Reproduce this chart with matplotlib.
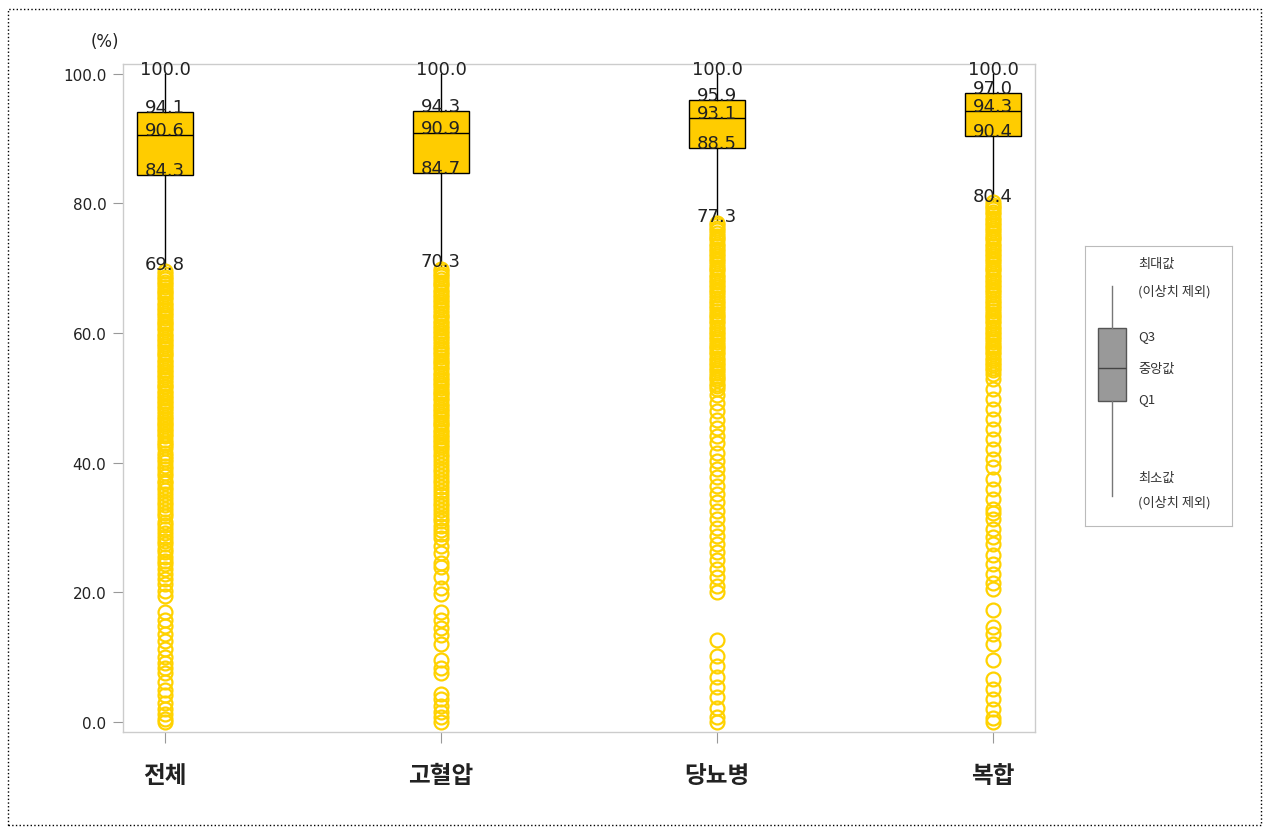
import numpy as np
import matplotlib.pyplot as plt
from matplotlib.patches import Rectangle

plt.rcParams['font.family'] = ['DejaVu Sans', 'Noto Sans CJK KR']

# Categories and box statistics (%)
categories = ['전체', '고혈압', '당뇨병', '복합']
whisker_high = [100.0, 100.0, 100.0, 100.0]
q3_values = [94.1, 94.3, 95.9, 97.0]
median_values = [90.6, 90.9, 93.1, 94.3]
q1_values = [84.3, 84.7, 88.5, 90.4]
whisker_low = [69.8, 70.3, 77.3, 80.4]

# Outliers (dense parts are solid columns of circles)
outliers_total = [
    0.0, 0.4, 1.2, 2.0, 3.0, 4.1, 5.0, 6.2, 7.5, 8.3, 9.1, 10.0, 11.2, 12.5,
    13.6, 14.8, 15.7, 16.9, 19.5, 20.2, 21.3, 22.0, 22.8, 23.6, 24.3, 24.8,
    25.5, 26.2, 26.7, 27.4, 27.9, 28.6, 29.2, 29.8, 30.4, 30.9, 31.7, 32.3,
    32.8, 33.5, 34.0, 34.6, 35.1, 35.8, 36.3, 36.9, 37.2, 37.9, 38.4, 39.0,
    39.5, 40.1, 40.6, 41.1, 41.5, 42.2, 42.7, 43.1, 43.5,
    44.1, 44.4, 44.9, 45.2, 45.7, 46.0, 46.3, 46.8, 47.1, 47.5, 47.9, 48.4,
    48.7, 49.2, 49.5, 49.9, 50.3, 50.8, 51.1, 51.6, 51.9, 52.3, 52.7, 53.2,
    53.5, 54.0, 54.3, 54.7, 55.1, 55.6, 55.9, 56.4, 56.7, 57.1, 57.5, 58.0,
    58.3, 58.8, 59.1, 59.5, 59.9, 60.4, 60.7, 61.2, 61.5, 61.9, 62.3, 62.8,
    63.1, 63.6, 63.9, 64.3, 64.7, 65.2, 65.5, 66.0, 66.3, 66.7, 67.1, 67.6,
    67.9, 68.4, 68.7, 69.1, 69.5,
]
outliers_hyper = [
    0.0, 0.8, 1.6, 2.5, 3.6, 4.3, 7.5, 8.4, 9.6, 12.1, 13.4, 14.5, 15.8,
    16.9, 19.8, 20.6, 22.3, 23.9, 24.6, 26.1, 27.2, 28.4, 29.0, 29.6, 30.3,
    31.0, 31.5, 32.1, 32.7, 33.3, 33.8, 34.4, 35.0, 35.6, 36.2, 36.8, 37.4,
    37.9, 38.5, 39.1, 39.7, 40.2, 40.8, 41.3, 41.9,
    42.4, 42.7, 43.2, 43.5, 43.9, 44.3, 44.8, 45.1, 45.6, 45.9, 46.3, 46.7,
    47.2, 47.5, 48.0, 48.3, 48.7, 49.1, 49.6, 49.9, 50.4, 50.7, 51.1, 51.5,
    52.0, 52.3, 52.8, 53.1, 53.5, 53.9, 54.4, 54.7, 55.2, 55.5, 55.9, 56.3,
    56.8, 57.1, 57.6, 57.9, 58.3, 58.7, 59.2, 59.5, 60.0, 60.3, 60.7, 61.1,
    61.6, 61.9, 62.4, 62.7, 63.1, 63.5, 64.0, 64.3, 64.8, 65.1, 65.5, 65.9,
    66.4, 66.7, 67.2, 67.5, 67.9, 68.3, 68.8, 69.1, 69.6, 69.9,
]
outliers_diabetes = [
    0.0, 0.8, 2.2, 3.9, 5.4, 7.0, 8.7, 10.2, 12.6, 20.1, 21.0, 22.3, 23.6,
    25.0, 26.2, 27.4, 28.7, 30.0, 31.3, 32.6, 33.9, 35.1, 36.4, 37.8, 39.0,
    40.2, 41.5, 43.0, 44.1, 45.3, 46.6, 48.0, 49.2, 50.5, 51.3,
    51.9, 52.2, 52.7, 53.0, 53.4, 53.8, 54.3, 54.6, 55.1, 55.4, 55.8, 56.2,
    56.7, 57.0, 57.5, 57.8, 58.2, 58.6, 59.1, 59.4, 59.9, 60.2, 60.6, 61.0,
    61.5, 61.8, 62.3, 62.6, 63.0, 63.4, 63.9, 64.2, 64.7, 65.0, 65.4, 65.8,
    66.3, 66.6, 67.1, 67.4, 67.8, 68.2, 68.7, 69.0, 69.5, 69.8, 70.2, 70.6,
    71.1, 71.4, 71.9, 72.2, 72.6, 73.0, 73.5, 73.8, 74.3, 74.6, 75.0, 75.4,
    75.9, 76.2, 76.7, 77.0,
]
outliers_complex = [
    0.0, 0.6, 2.0, 3.5, 5.1, 6.6, 9.5, 12.0, 13.6, 14.6, 17.2, 20.5, 21.4,
    22.8, 24.4, 25.7, 27.5, 28.5, 29.8, 31.3, 32.2, 32.9, 34.4, 36.0, 37.5,
    39.3, 40.6, 42.1, 43.7, 45.2, 46.8, 48.3, 49.8, 51.4, 52.9, 53.7,
    54.3, 54.6, 55.1, 55.4, 55.8, 56.2, 56.7, 57.0, 57.5, 57.8, 58.2, 58.6,
    59.1, 59.4, 59.9, 60.2, 60.6, 61.0, 61.5, 61.8, 62.3, 62.6, 63.0, 63.4,
    63.9, 64.2, 64.7, 65.0, 65.4, 65.8, 66.3, 66.6, 67.1, 67.4, 67.8, 68.2,
    68.7, 69.0, 69.5, 69.8, 70.2, 70.6, 71.1, 71.4, 71.9, 72.2, 72.6, 73.0,
    73.5, 73.8, 74.3, 74.6, 75.0, 75.4, 75.9, 76.2, 76.7, 77.0, 77.4, 77.8,
    78.3, 78.6, 79.1, 79.4, 79.8, 80.2,
]
outlier_lists = [outliers_total, outliers_hyper, outliers_diabetes, outliers_complex]

y_ticks = [0, 20, 40, 60, 80, 100]

BOX_COLOR = '#FFCC00'
FLIER_COLOR = '#FFD200'

fig = plt.figure(figsize=(12.64, 8.28), dpi=100)
ax = fig.add_axes([0.0973, 0.1147, 0.7215, 0.8068])

stats = []
for i in range(len(categories)):
    stats.append({
        'whislo': whisker_low[i], 'q1': q1_values[i], 'med': median_values[i],
        'q3': q3_values[i], 'whishi': whisker_high[i],
        'fliers': np.array(outlier_lists[i]), 'label': categories[i],
    })

ax.bxp(
    stats,
    positions=range(len(categories)),
    widths=0.2,
    patch_artist=True,
    showcaps=False,
    boxprops=dict(facecolor=BOX_COLOR, edgecolor='black', linewidth=1.0),
    medianprops=dict(color='black', linewidth=1.0),
    whiskerprops=dict(color='black', linewidth=1.0),
    flierprops=dict(marker='o', markerfacecolor='none', markeredgecolor=FLIER_COLOR,
                    markersize=10, markeredgewidth=1.6),
)

# Value labels
for i in range(len(categories)):
    for v in (whisker_high[i], q3_values[i], median_values[i], q1_values[i], whisker_low[i]):
        ax.text(i, v, f'{v:.1f}', ha='center', va='baseline', fontsize=13,
                color='#222222', zorder=5)

ax.set_xlim(-0.152, 3.152)
ax.set_ylim(-1.55, 101.5)
ax.set_yticks(y_ticks)
ax.set_yticklabels([f'{t:.1f}' for t in y_ticks], fontsize=11, color='#222222')
ax.set_xticks(range(len(categories)))
ax.set_xticklabels(categories, fontsize=17, fontweight='bold', color='#222222',
                   family=['Noto Sans CJK KR', 'DejaVu Sans'])
ax.tick_params(axis='y', length=7, color='#999999', pad=5)
ax.tick_params(axis='x', length=8, color='#999999', pad=14)
for sp in ax.spines.values():
    sp.set_color('#CCCCCC')
    sp.set_linewidth(1.0)

fig.text(105 / 1264, 1 - 42 / 828, '(%)', ha='center', va='center', fontsize=12,
         color='#222222')

# Legend key
lax = fig.add_axes([1085 / 1264, 1 - 527 / 828, 147 / 1264, 280 / 828])
lax.bxp(
    [{'whislo': 30, 'q1': 125, 'med': 158, 'q3': 198, 'whishi': 240, 'fliers': []}],
    positions=[27], widths=28, patch_artist=True, showcaps=False,
    boxprops=dict(facecolor='#999999', edgecolor='#555555', linewidth=1.0),
    medianprops=dict(color='#444444', linewidth=1.0),
    whiskerprops=dict(color='#777777', linewidth=1.0),
)
lax.set_xlim(0, 147)
lax.set_ylim(0, 280)
lax.set_xticks([])
lax.set_yticks([])
for sp in lax.spines.values():
    sp.set_color('#BBBBBB')
legend_texts = [
    (263, '최대값'), (235, '(이상치 제외)'), (190, 'Q3'), (158, '중앙값'),
    (127, 'Q1'), (49, '최소값'), (24, '(이상치 제외)'),
]
for y, t in legend_texts:
    lax.text(53, y, t, ha='left', va='center', fontsize=9.5, color='#333333',
             family=['Noto Sans CJK KR', 'DejaVu Sans'])

# Dotted outer border
fig.add_artist(Rectangle((8 / 1264, 2 / 828), 1253 / 1264, 816 / 828,
                         transform=fig.transFigure, fill=False,
                         linestyle=':', linewidth=1.0, edgecolor='black'))

fig.savefig('out.png', dpi=100)
